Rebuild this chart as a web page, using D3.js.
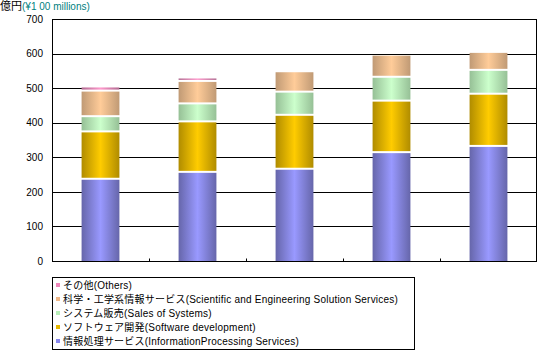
<!DOCTYPE html>
<html><head><meta charset="utf-8">
<script src="https://cdn.jsdelivr.net/npm/d3@7"></script>
<style>body{margin:0;background:#fff}svg{display:block;font-family:"Liberation Sans","DejaVu Sans","Noto Sans CJK JP",sans-serif}</style>
</head><body><svg id="c" width="538" height="351"></svg>
<script>
const categories = ["1", "2", "3", "4", "5"];
const seriesNames = [
  "情報処理サービス(InformationProcessing Services)",
  "ソフトウェア開発(Software development)",
  "システム販売(Sales of Systems)",
  "科学・工学系情報サービス(Scientific and Engineering Solution Services)",
  "その他(Others)"
];
const infoProcessing = [235, 255, 264, 312, 330];
const software = [137, 146, 156, 149, 151];
const systems = [44, 52, 67, 69, 69];
const scientific = [74, 65, 59, 64, 52];
const others = [12, 10, 0, 0, 0];
const yTicks = [0, 100, 200, 300, 400, 500, 600, 700];

const seriesValues = [infoProcessing, software, systems, scientific, others];
const colors = [
  {light:"#9999FF", dark:"#6666AA", key:"#8888EE"},
  {light:"#FFCC00", dark:"#B08C00", key:"#E6B800"},
  {light:"#CCFFCC", dark:"#96C096", key:"#B8EEB8"},
  {light:"#FFCC99", dark:"#C09A75", key:"#F0B888"},
  {light:"#FF99CC", dark:"#B06A90", key:"#EE88BB"}
];

const svg = d3.select("#c");
const m = {l:52, r:537, t:19, b:261};
const x = d3.scaleBand().domain(categories).range([m.l, m.r]).paddingInner(0.61).paddingOuter(0.305);
const y = d3.scaleLinear().domain([0, 700]).range([m.b, m.t]);

const defs = svg.append("defs");
colors.forEach((c, i) => {
  const g = defs.append("linearGradient").attr("id", "g" + i).attr("x1", 0).attr("x2", 1).attr("y1", 0).attr("y2", 0);
  g.append("stop").attr("offset", "0%").attr("stop-color", c.dark);
  g.append("stop").attr("offset", "50%").attr("stop-color", c.light);
  g.append("stop").attr("offset", "100%").attr("stop-color", c.dark);
});

// title
const t = svg.append("text").attr("x", 0).attr("y", 10).attr("font-size", 11);
t.append("tspan").attr("fill", "#000").text("億円");
t.append("tspan").attr("fill", "#008080").attr("font-size", 10).text("(¥1 00 millions)");

// gridlines
svg.append("g").selectAll("line").data(yTicks.filter(d => d > 0)).join("line")
  .attr("x1", m.l).attr("x2", m.r).attr("y1", d => Math.round(y(d)) + 0.5).attr("y2", d => Math.round(y(d)) + 0.5)
  .attr("stroke", "#000").attr("stroke-width", 1);

// bars
const data = categories.map((c, i) => {
  const o = {cat: c};
  seriesValues.forEach((s, k) => o["s" + k] = s[i]);
  return o;
});
const stack = d3.stack().keys(seriesValues.map((s, k) => "s" + k))(data);
stack.forEach((layer, k) => {
  svg.append("g").selectAll("rect").data(layer.filter(d => d[1] - d[0] > 0)).join("rect")
    .attr("x", d => x(d.data.cat))
    .attr("width", x.bandwidth())
    .attr("y", d => y(d[1]))
    .attr("height", d => Math.max(0, y(d[0]) - y(d[1]) - (k > 0 ? 2 : 0)))
    .attr("fill", "url(#g" + k + ")");
});

// axes frame
svg.append("line").attr("x1", m.l + 0.5).attr("x2", m.l + 0.5).attr("y1", m.t).attr("y2", m.b + 1).attr("stroke", "#000");
svg.append("line").attr("x1", m.r - 0.5).attr("x2", m.r - 0.5).attr("y1", m.t).attr("y2", m.b).attr("stroke", "#000");
svg.append("line").attr("x1", m.l).attr("x2", m.r).attr("y1", m.t + 0.5).attr("y2", m.t + 0.5).attr("stroke", "#000");

const xAxis = d3.axisBottom(x).tickSizeInner(-3).tickSizeOuter(0).tickFormat("");
const xg = svg.append("g").attr("transform", `translate(0,${m.b + 0.5})`).call(xAxis);
xg.select(".domain").attr("stroke", "#000").attr("d", `M${m.l},0H${m.r}`);
xg.selectAll(".tick").remove();
xg.selectAll("line.b").data(categories.slice(1)).join("line")
  .attr("x1", d => Math.round(x(d) - x.step() * x.paddingInner() / 2) + 0.5)
  .attr("x2", d => Math.round(x(d) - x.step() * x.paddingInner() / 2) + 0.5)
  .attr("y1", 0).attr("y2", -3).attr("stroke", "#000");

const yAxis = d3.axisLeft(y).tickValues(yTicks).tickSize(0).tickPadding(9);
const yg = svg.append("g").attr("transform", `translate(${m.l},0)`).call(yAxis);
yg.select(".domain").remove();
yg.selectAll("text").attr("font-size", 10).attr("fill", "#000").attr("font-family", "Liberation Sans, sans-serif");

// legend
const lg = svg.append("g");
lg.append("rect").attr("x", 52.5).attr("y", 277.5).attr("width", 362).attr("height", 72).attr("fill", "#fff").attr("stroke", "#000");
const order = [4, 3, 2, 1, 0];
order.forEach((k, i) => {
  const yy = 285 + i * 14;
  lg.append("rect").attr("x", 56).attr("y", yy - 2).attr("width", 4).attr("height", 4).attr("fill", colors[k].key);
  lg.append("text").attr("x", 63).attr("y", yy + 4).attr("font-size", 10).attr("letter-spacing", 0.22).attr("fill", "#000").text(seriesNames[k]);
});
</script></body></html>
